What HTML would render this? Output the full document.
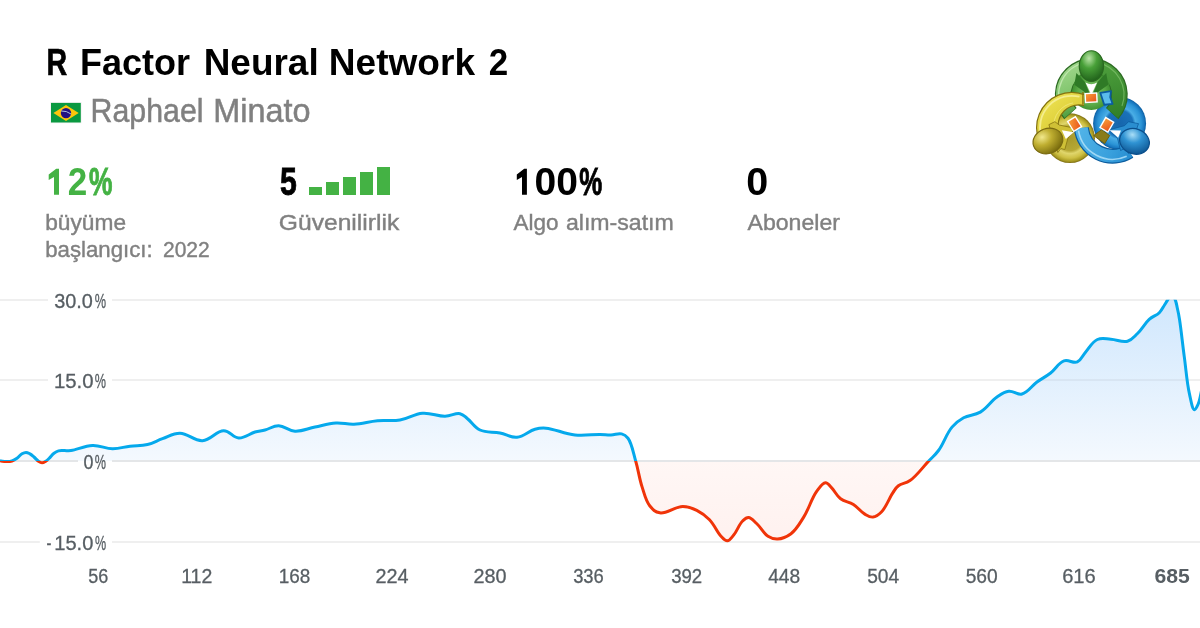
<!DOCTYPE html>
<html><head><meta charset="utf-8"><title>R Factor Neural Network 2</title>
<style>
html,body{margin:0;padding:0;background:#fff;}
body{width:1200px;height:628px;overflow:hidden;font-family:"Liberation Sans",sans-serif;}
svg{display:block;will-change:transform;}
text{font-family:"Liberation Sans",sans-serif;}
</style></head><body>
<svg width="1200" height="628" viewBox="0 0 1200 628">
<defs>
<linearGradient id="gb" x1="0" y1="300" x2="0" y2="461" gradientUnits="userSpaceOnUse">
<stop offset="0" stop-color="#d0e7fd"/><stop offset="1" stop-color="#f4f9fe"/></linearGradient>
<linearGradient id="gr" x1="0" y1="461" x2="0" y2="542" gradientUnits="userSpaceOnUse"><stop offset="0" stop-color="#fff7f5"/><stop offset="1" stop-color="#fff1ef"/></linearGradient>
<clipPath id="ca"><path d="M-4.0,460.5C-3.2,460.6 -1.7,460.6 0.0,460.8C2.1,461.0 3.7,461.6 6.0,461.6C8.3,461.6 9.9,461.7 12.0,461.0C14.1,460.3 15.2,459.5 17.0,458.2C19.0,456.8 20.1,454.9 22.0,453.8C23.5,452.9 24.5,452.4 26.0,452.4C27.5,452.4 28.5,453.1 30.0,453.9C31.6,454.8 32.5,455.7 34.0,457.0C35.7,458.5 36.8,460.2 38.5,461.3C39.8,462.2 40.7,462.8 42.0,462.8C43.3,462.8 44.2,462.2 45.5,461.4C46.9,460.6 47.6,459.8 49.0,458.5C50.8,456.8 52.0,454.7 54.0,453.2C55.7,452.0 56.6,451.4 58.5,450.9C60.5,450.4 61.8,450.7 64.0,450.6C66.5,450.5 67.6,451.0 71.0,450.6C77.0,449.9 84.4,445.8 92.5,445.5C100.3,445.2 105.1,448.6 112.5,448.7C119.4,448.8 123.3,447.0 130.0,446.2C136.7,445.4 141.1,446.0 147.5,444.5C153.6,443.1 156.5,440.8 162.5,438.7C168.9,436.5 172.9,433.1 180.0,433.2C188.1,433.3 194.1,441.2 202.5,440.7C210.8,440.2 216.3,430.7 223.7,430.7C230.0,430.7 232.8,437.7 238.7,438.0C244.8,438.3 249.5,433.6 255.0,432.0C259.2,430.8 260.9,431.1 265.0,430.0C269.9,428.8 273.2,425.6 278.7,425.7C284.7,425.8 288.4,430.8 295.0,431.2C302.2,431.6 307.2,428.6 315.0,427.0C322.9,425.4 328.2,423.5 336.0,423.0C343.1,422.6 346.7,424.5 354.0,424.2C362.4,423.9 368.6,421.5 377.5,420.7C386.2,419.9 391.5,421.4 400.0,420.0C408.7,418.6 413.8,413.9 422.5,413.2C431.1,412.5 437.3,416.3 445.0,416.2C451.3,416.1 455.4,412.7 460.0,413.7C463.6,414.5 464.4,416.3 467.5,418.7C471.8,422.0 474.2,427.2 480.0,430.0C486.4,433.0 492.7,431.5 500.0,433.0C506.8,434.3 510.5,437.8 517.0,437.2C523.9,436.6 528.8,430.8 535.0,429.2C539.6,428.0 540.8,427.8 546.0,428.2C554.5,428.8 564.2,433.9 575.0,435.0C584.9,436.0 592.4,434.3 600.0,434.4C605.1,434.5 606.8,435.0 611.0,434.9C615.1,434.8 618.2,433.0 621.6,433.9C624.5,434.6 625.8,435.4 628.0,438.2C631.8,443.2 633.1,452.0 635.7,461.1C638.5,470.6 639.1,477.6 642.0,486.6C644.6,494.5 645.6,500.5 649.7,505.7C652.9,509.7 654.9,512.0 659.8,512.8C666.6,514.0 675.1,506.4 682.8,506.4C688.8,506.4 691.8,507.8 696.8,510.3C702.0,512.9 705.1,515.2 709.5,519.7C714.5,524.8 716.9,532.0 721.0,536.2C723.5,538.8 724.9,540.9 727.3,540.8C729.8,540.7 731.2,537.9 733.7,535.0C737.1,531.0 739.1,524.3 742.6,521.0C744.8,518.9 746.1,517.5 748.5,517.6C751.4,517.8 753.4,520.6 756.6,523.5C760.8,527.3 763.4,533.3 768.0,536.2C771.5,538.4 773.6,539.2 777.5,539.0C782.3,538.8 786.3,537.2 791.0,533.7C796.6,529.5 799.1,524.4 803.7,517.1C809.0,508.6 811.5,498.7 816.5,491.7C819.9,487.1 822.2,483.0 825.4,482.8C828.0,482.7 829.2,485.4 831.7,487.9C835.0,491.2 836.4,495.6 840.6,498.8C844.8,502.0 848.8,501.5 853.4,504.4C858.1,507.4 860.6,511.6 864.8,514.1C868.0,516.0 869.9,517.4 873.0,517.1C876.3,516.8 878.3,515.1 881.4,512.0C886.1,507.3 889.1,498.4 892.8,492.9C895.2,489.4 895.5,488.0 898.4,485.7C901.8,483.0 905.4,483.8 910.0,480.6C916.7,475.9 922.5,467.6 928.5,461.2C932.9,456.5 934.7,455.7 938.5,450.5C943.7,443.5 946.4,433.7 952.0,427.1C956.2,422.2 958.5,420.6 963.6,417.8C969.2,414.7 974.2,415.7 980.3,412.1C987.1,408.1 990.9,401.1 997.0,397.0C1001.7,393.8 1004.0,391.9 1008.8,391.3C1013.6,390.7 1017.1,395.2 1022.0,394.0C1027.9,392.6 1031.3,386.2 1037.0,382.0C1042.3,378.2 1045.5,376.9 1050.6,373.0C1055.9,368.9 1058.4,362.8 1064.0,360.9C1068.8,359.3 1073.1,363.7 1077.3,361.9C1081.4,360.2 1082.2,355.9 1085.7,351.9C1089.8,347.3 1092.2,341.8 1097.4,339.5C1102.0,337.5 1105.4,338.9 1110.8,339.2C1116.9,339.5 1122.2,342.7 1127.5,341.2C1132.1,339.9 1133.7,337.1 1137.5,333.5C1142.1,329.1 1144.6,323.6 1149.2,319.4C1153.0,316.0 1156.3,315.7 1159.3,312.7C1161.9,310.1 1162.7,307.7 1164.5,305.0C1166.0,302.7 1166.6,301.4 1168.0,299.3C1169.3,297.3 1170.3,294.5 1171.6,294.5C1172.9,294.5 1174.0,297.1 1175.0,299.3C1176.3,302.0 1176.5,304.4 1177.3,308.0C1178.3,312.2 1178.7,314.1 1179.6,320.0C1181.2,330.3 1182.4,342.8 1184.3,356.9C1186.2,371.0 1186.9,382.6 1189.4,393.7C1191.1,401.2 1192.3,409.4 1194.4,409.7C1195.7,409.9 1196.9,406.9 1198.0,404.5C1199.4,401.6 1199.6,399.3 1200.5,395.5C1201.6,390.9 1202.5,384.6 1203.0,382.0L1203.0,461 L-4.0,461 Z"/></clipPath>
<clipPath id="cu"><rect x="0" y="299.8" width="1200" height="161.2"/></clipPath>
<clipPath id="cd"><rect x="0" y="461" width="1200" height="100"/></clipPath>
</defs>
<rect width="1200" height="628" fill="#fff"/>
<g><rect x="50.2" y="102" width="31.5" height="21.3" fill="#f3f3f3"/><rect x="51" y="102.9" width="29.8" height="19.6" fill="#0a9940"/><path d="M53.4,113 L66,105.1 L78.7,113 L66,121Z" fill="#fdc60b"/><circle cx="66" cy="113.1" r="5.2" fill="#221182"/><path d="M61.2,111 Q66.5,110.6 71,114" fill="none" stroke="#a9c3e0" stroke-width="1"/></g>
<g transform="translate(1025,45) scale(0.19912)"><defs>
<linearGradient id="ly" x1="60" y1="240" x2="330" y2="560" gradientUnits="userSpaceOnUse"><stop offset="0" stop-color="#f2e85a"/><stop offset="0.5" stop-color="#dccd38"/><stop offset="1" stop-color="#b8a820"/></linearGradient>
<radialGradient id="dy" cx="226" cy="468" r="125" gradientUnits="userSpaceOnUse"><stop offset="0" stop-color="#a89a2c"/><stop offset="0.5" stop-color="#b6a834"/><stop offset="0.62" stop-color="#e0d66c"/><stop offset="0.8" stop-color="#cec044"/><stop offset="0.93" stop-color="#a89a22"/><stop offset="1" stop-color="#7a6a10"/></radialGradient>
<radialGradient id="db" cx="475" cy="394" r="133" gradientUnits="userSpaceOnUse"><stop offset="0" stop-color="#1666ac"/><stop offset="0.5" stop-color="#1a72ba"/><stop offset="0.6" stop-color="#4aaee6"/><stop offset="0.82" stop-color="#2b94d6"/><stop offset="0.93" stop-color="#1878c0"/><stop offset="1" stop-color="#0b5c9e"/></radialGradient>
<radialGradient id="dg" cx="333" cy="235" r="108" gradientUnits="userSpaceOnUse"><stop offset="0" stop-color="#86c872"/><stop offset="0.6" stop-color="#5cab48"/><stop offset="0.88" stop-color="#3f9030"/><stop offset="1" stop-color="#2a6a20"/></radialGradient>
<linearGradient id="lb" x1="250" y1="450" x2="560" y2="600" gradientUnits="userSpaceOnUse"><stop offset="0" stop-color="#52b4e8"/><stop offset="0.6" stop-color="#389fdc"/><stop offset="1" stop-color="#1f86cc"/></linearGradient>
<linearGradient id="lgl" x1="150" y1="100" x2="260" y2="380" gradientUnits="userSpaceOnUse"><stop offset="0" stop-color="#a4da90"/><stop offset="0.6" stop-color="#7cc268"/><stop offset="1" stop-color="#3c8c2e"/></linearGradient>
<linearGradient id="lgr" x1="400" y1="100" x2="480" y2="380" gradientUnits="userSpaceOnUse"><stop offset="0" stop-color="#4d9e3c"/><stop offset="1" stop-color="#2f7d26"/></linearGradient>
<radialGradient id="hy" cx="0.36" cy="0.28" r="0.8"><stop offset="0" stop-color="#f1e88c"/><stop offset="0.4" stop-color="#bfae30"/><stop offset="1" stop-color="#6f6208"/></radialGradient>
<radialGradient id="hb" cx="0.36" cy="0.28" r="0.8"><stop offset="0" stop-color="#a9def7"/><stop offset="0.4" stop-color="#2f93d3"/><stop offset="1" stop-color="#0a4f8c"/></radialGradient>
<radialGradient id="hg" cx="0.4" cy="0.25" r="0.8"><stop offset="0" stop-color="#b9e4a6"/><stop offset="0.4" stop-color="#48a038"/><stop offset="1" stop-color="#1d5c18"/></radialGradient>
<linearGradient id="or" x1="0" y1="0" x2="1" y2="1"><stop offset="0" stop-color="#f9a23a"/><stop offset="1" stop-color="#e8501a"/></linearGradient>
</defs><circle cx="226" cy="468" r="125" fill="url(#dy)"/><circle cx="475" cy="394" r="133" fill="url(#db)"/><path d="M345,455 L385,425 L425,455 L400,495 Z" fill="#8a7c1a" stroke="#6e6010" stroke-width="5"/><path d="M523.7,534.0A158,158 0 0 1 282.9,416.5" fill="none" stroke="#0b5c9e" stroke-width="76"/><path d="M523.7,534.0A158,158 0 0 1 282.9,416.5" fill="none" stroke="url(#lb)" stroke-width="64"/><path d="M510.8,559.0A174,174 0 0 1 268.6,430.2" fill="none" stroke="#b5e4fa" stroke-width="8" stroke-opacity="0.8"/><circle cx="333" cy="218" r="108" fill="url(#dg)"/><path d="M228.2,344.3A141,141 0 1 1 437.8,344.3" fill="none" stroke="#2c6b22" stroke-width="84"/><path d="M226.6,342.5A141,141 0 0 1 333.0,109.0" fill="none" stroke="url(#lgl)" stroke-width="72"/><path d="M333.0,109.0A141,141 0 0 1 439.4,342.5" fill="none" stroke="url(#lgr)" stroke-width="72"/><path d="M191.0,332.0A164,164 0 0 1 304.5,88.5" fill="none" stroke="#c9ecb8" stroke-width="7" stroke-opacity="0.8"/><path d="M361.5,88.5A164,164 0 0 1 487.1,306.1" fill="none" stroke="#8ccc78" stroke-width="6" stroke-opacity="0.6"/><circle cx="333" cy="222" r="92" fill="url(#dg)"/><clipPath id="cy"><path d="M235,415 L297,330 L297,0 L-100,0 L-100,560 L-20,560 Z"/></clipPath><g clip-path="url(#cy)"><path fill-rule="evenodd" fill="#84730f" d="M55,415 a180,180 0 1 0 360,0 a180,180 0 1 0 -360,0Z M169,405 a101,101 0 1 0 202,0 a101,101 0 1 0 -202,0Z"/><path fill-rule="evenodd" fill="url(#ly)" d="M61,415 a174,174 0 1 0 348,0 a174,174 0 1 0 -348,0Z M163,405 a107,107 0 1 0 214,0 a107,107 0 1 0 -214,0Z"/><path d="M291,236 L291,300" stroke="#84730f" stroke-width="7"/></g><path d="M80.5,456.4A160,160 0 0 1 273.7,259.8" fill="none" stroke="#f8f2a0" stroke-width="9" stroke-opacity="0.8"/><path d="M144.4,417.3A118,118 0 0 1 241.5,290.8" fill="none" stroke="#f4eb84" stroke-width="5" stroke-opacity="0.7"/><path d="M378,240 L432,232 L428,262 L440,296 L398,300 Z" fill="#5bbcec" stroke="#0b5c9e" stroke-width="9" stroke-linejoin="round"/><path d="M258,140 L300,185 L333,262 L366,185 L408,140 L418,200 L372,232 L333,268 L294,232 L248,200Z" fill="#2f7a26"/><path d="M304,188 L333,250 L362,188 Q333,205 304,188Z" fill="#fff"/><ellipse cx="333.5" cy="106" rx="61" ry="77" fill="url(#hg)" stroke="#2a6a20" stroke-width="6"/><path d="M120,400 L150,385 L172,402 L250,418 L215,470 L200,525 L180,520 L165,540 Z" fill="#cfc036" stroke="#84730f" stroke-width="4"/><path d="M185,428 L245,438 L205,472Z" fill="#fff"/><g transform="rotate(-20 115 482)"><ellipse cx="115" cy="482" rx="76" ry="63" fill="url(#hy)" stroke="#7a6a10" stroke-width="6"/></g><path d="M570,395 L520,385 L500,405 L425,425 L465,470 L480,530 L500,520 L520,545 Z" fill="#2a8ed0" stroke="#0b5c9e" stroke-width="4"/><path d="M482,430 L425,428 L468,466Z" fill="#fff"/><g transform="rotate(20 550 484)"><ellipse cx="550" cy="484" rx="76" ry="63" fill="url(#hb)" stroke="#0b4f8c" stroke-width="6"/></g><rect x="303" y="243" width="58" height="44" fill="url(#or)" stroke="#fff" stroke-width="7" transform="rotate(-3 332 265)"/><rect x="226" y="368" width="46" height="58" fill="url(#or)" stroke="#fff" stroke-width="7" transform="rotate(-32 249 397)"/><rect x="388" y="372" width="46" height="58" fill="url(#or)" stroke="#fff" stroke-width="7" transform="rotate(30 411 401)"/></g>
<g fill="#44b244"><rect x="309" y="187" width="13" height="8"/><rect x="326" y="182" width="13" height="13"/><rect x="343" y="177" width="13" height="18"/><rect x="360" y="172" width="13" height="23"/><rect x="377" y="167" width="13" height="28"/></g>
<!-- chart -->
<g stroke="#efefef" stroke-width="2">
<path d="M0,300H48M112,300H1200M0,380H48M112,380H1200M0,542H39.8M112,542H1200"/></g>
<g clip-path="url(#cu)"><path d="M-4.0,460.5C-3.2,460.6 -1.7,460.6 0.0,460.8C2.1,461.0 3.7,461.6 6.0,461.6C8.3,461.6 9.9,461.7 12.0,461.0C14.1,460.3 15.2,459.5 17.0,458.2C19.0,456.8 20.1,454.9 22.0,453.8C23.5,452.9 24.5,452.4 26.0,452.4C27.5,452.4 28.5,453.1 30.0,453.9C31.6,454.8 32.5,455.7 34.0,457.0C35.7,458.5 36.8,460.2 38.5,461.3C39.8,462.2 40.7,462.8 42.0,462.8C43.3,462.8 44.2,462.2 45.5,461.4C46.9,460.6 47.6,459.8 49.0,458.5C50.8,456.8 52.0,454.7 54.0,453.2C55.7,452.0 56.6,451.4 58.5,450.9C60.5,450.4 61.8,450.7 64.0,450.6C66.5,450.5 67.6,451.0 71.0,450.6C77.0,449.9 84.4,445.8 92.5,445.5C100.3,445.2 105.1,448.6 112.5,448.7C119.4,448.8 123.3,447.0 130.0,446.2C136.7,445.4 141.1,446.0 147.5,444.5C153.6,443.1 156.5,440.8 162.5,438.7C168.9,436.5 172.9,433.1 180.0,433.2C188.1,433.3 194.1,441.2 202.5,440.7C210.8,440.2 216.3,430.7 223.7,430.7C230.0,430.7 232.8,437.7 238.7,438.0C244.8,438.3 249.5,433.6 255.0,432.0C259.2,430.8 260.9,431.1 265.0,430.0C269.9,428.8 273.2,425.6 278.7,425.7C284.7,425.8 288.4,430.8 295.0,431.2C302.2,431.6 307.2,428.6 315.0,427.0C322.9,425.4 328.2,423.5 336.0,423.0C343.1,422.6 346.7,424.5 354.0,424.2C362.4,423.9 368.6,421.5 377.5,420.7C386.2,419.9 391.5,421.4 400.0,420.0C408.7,418.6 413.8,413.9 422.5,413.2C431.1,412.5 437.3,416.3 445.0,416.2C451.3,416.1 455.4,412.7 460.0,413.7C463.6,414.5 464.4,416.3 467.5,418.7C471.8,422.0 474.2,427.2 480.0,430.0C486.4,433.0 492.7,431.5 500.0,433.0C506.8,434.3 510.5,437.8 517.0,437.2C523.9,436.6 528.8,430.8 535.0,429.2C539.6,428.0 540.8,427.8 546.0,428.2C554.5,428.8 564.2,433.9 575.0,435.0C584.9,436.0 592.4,434.3 600.0,434.4C605.1,434.5 606.8,435.0 611.0,434.9C615.1,434.8 618.2,433.0 621.6,433.9C624.5,434.6 625.8,435.4 628.0,438.2C631.8,443.2 633.1,452.0 635.7,461.1C638.5,470.6 639.1,477.6 642.0,486.6C644.6,494.5 645.6,500.5 649.7,505.7C652.9,509.7 654.9,512.0 659.8,512.8C666.6,514.0 675.1,506.4 682.8,506.4C688.8,506.4 691.8,507.8 696.8,510.3C702.0,512.9 705.1,515.2 709.5,519.7C714.5,524.8 716.9,532.0 721.0,536.2C723.5,538.8 724.9,540.9 727.3,540.8C729.8,540.7 731.2,537.9 733.7,535.0C737.1,531.0 739.1,524.3 742.6,521.0C744.8,518.9 746.1,517.5 748.5,517.6C751.4,517.8 753.4,520.6 756.6,523.5C760.8,527.3 763.4,533.3 768.0,536.2C771.5,538.4 773.6,539.2 777.5,539.0C782.3,538.8 786.3,537.2 791.0,533.7C796.6,529.5 799.1,524.4 803.7,517.1C809.0,508.6 811.5,498.7 816.5,491.7C819.9,487.1 822.2,483.0 825.4,482.8C828.0,482.7 829.2,485.4 831.7,487.9C835.0,491.2 836.4,495.6 840.6,498.8C844.8,502.0 848.8,501.5 853.4,504.4C858.1,507.4 860.6,511.6 864.8,514.1C868.0,516.0 869.9,517.4 873.0,517.1C876.3,516.8 878.3,515.1 881.4,512.0C886.1,507.3 889.1,498.4 892.8,492.9C895.2,489.4 895.5,488.0 898.4,485.7C901.8,483.0 905.4,483.8 910.0,480.6C916.7,475.9 922.5,467.6 928.5,461.2C932.9,456.5 934.7,455.7 938.5,450.5C943.7,443.5 946.4,433.7 952.0,427.1C956.2,422.2 958.5,420.6 963.6,417.8C969.2,414.7 974.2,415.7 980.3,412.1C987.1,408.1 990.9,401.1 997.0,397.0C1001.7,393.8 1004.0,391.9 1008.8,391.3C1013.6,390.7 1017.1,395.2 1022.0,394.0C1027.9,392.6 1031.3,386.2 1037.0,382.0C1042.3,378.2 1045.5,376.9 1050.6,373.0C1055.9,368.9 1058.4,362.8 1064.0,360.9C1068.8,359.3 1073.1,363.7 1077.3,361.9C1081.4,360.2 1082.2,355.9 1085.7,351.9C1089.8,347.3 1092.2,341.8 1097.4,339.5C1102.0,337.5 1105.4,338.9 1110.8,339.2C1116.9,339.5 1122.2,342.7 1127.5,341.2C1132.1,339.9 1133.7,337.1 1137.5,333.5C1142.1,329.1 1144.6,323.6 1149.2,319.4C1153.0,316.0 1156.3,315.7 1159.3,312.7C1161.9,310.1 1162.7,307.7 1164.5,305.0C1166.0,302.7 1166.6,301.4 1168.0,299.3C1169.3,297.3 1170.3,294.5 1171.6,294.5C1172.9,294.5 1174.0,297.1 1175.0,299.3C1176.3,302.0 1176.5,304.4 1177.3,308.0C1178.3,312.2 1178.7,314.1 1179.6,320.0C1181.2,330.3 1182.4,342.8 1184.3,356.9C1186.2,371.0 1186.9,382.6 1189.4,393.7C1191.1,401.2 1192.3,409.4 1194.4,409.7C1195.7,409.9 1196.9,406.9 1198.0,404.5C1199.4,401.6 1199.6,399.3 1200.5,395.5C1201.6,390.9 1202.5,384.6 1203.0,382.0L1203.0,461 L-4.0,461 Z" fill="url(#gb)"/></g>
<g clip-path="url(#cd)"><path d="M-4.0,460.5C-3.2,460.6 -1.7,460.6 0.0,460.8C2.1,461.0 3.7,461.6 6.0,461.6C8.3,461.6 9.9,461.7 12.0,461.0C14.1,460.3 15.2,459.5 17.0,458.2C19.0,456.8 20.1,454.9 22.0,453.8C23.5,452.9 24.5,452.4 26.0,452.4C27.5,452.4 28.5,453.1 30.0,453.9C31.6,454.8 32.5,455.7 34.0,457.0C35.7,458.5 36.8,460.2 38.5,461.3C39.8,462.2 40.7,462.8 42.0,462.8C43.3,462.8 44.2,462.2 45.5,461.4C46.9,460.6 47.6,459.8 49.0,458.5C50.8,456.8 52.0,454.7 54.0,453.2C55.7,452.0 56.6,451.4 58.5,450.9C60.5,450.4 61.8,450.7 64.0,450.6C66.5,450.5 67.6,451.0 71.0,450.6C77.0,449.9 84.4,445.8 92.5,445.5C100.3,445.2 105.1,448.6 112.5,448.7C119.4,448.8 123.3,447.0 130.0,446.2C136.7,445.4 141.1,446.0 147.5,444.5C153.6,443.1 156.5,440.8 162.5,438.7C168.9,436.5 172.9,433.1 180.0,433.2C188.1,433.3 194.1,441.2 202.5,440.7C210.8,440.2 216.3,430.7 223.7,430.7C230.0,430.7 232.8,437.7 238.7,438.0C244.8,438.3 249.5,433.6 255.0,432.0C259.2,430.8 260.9,431.1 265.0,430.0C269.9,428.8 273.2,425.6 278.7,425.7C284.7,425.8 288.4,430.8 295.0,431.2C302.2,431.6 307.2,428.6 315.0,427.0C322.9,425.4 328.2,423.5 336.0,423.0C343.1,422.6 346.7,424.5 354.0,424.2C362.4,423.9 368.6,421.5 377.5,420.7C386.2,419.9 391.5,421.4 400.0,420.0C408.7,418.6 413.8,413.9 422.5,413.2C431.1,412.5 437.3,416.3 445.0,416.2C451.3,416.1 455.4,412.7 460.0,413.7C463.6,414.5 464.4,416.3 467.5,418.7C471.8,422.0 474.2,427.2 480.0,430.0C486.4,433.0 492.7,431.5 500.0,433.0C506.8,434.3 510.5,437.8 517.0,437.2C523.9,436.6 528.8,430.8 535.0,429.2C539.6,428.0 540.8,427.8 546.0,428.2C554.5,428.8 564.2,433.9 575.0,435.0C584.9,436.0 592.4,434.3 600.0,434.4C605.1,434.5 606.8,435.0 611.0,434.9C615.1,434.8 618.2,433.0 621.6,433.9C624.5,434.6 625.8,435.4 628.0,438.2C631.8,443.2 633.1,452.0 635.7,461.1C638.5,470.6 639.1,477.6 642.0,486.6C644.6,494.5 645.6,500.5 649.7,505.7C652.9,509.7 654.9,512.0 659.8,512.8C666.6,514.0 675.1,506.4 682.8,506.4C688.8,506.4 691.8,507.8 696.8,510.3C702.0,512.9 705.1,515.2 709.5,519.7C714.5,524.8 716.9,532.0 721.0,536.2C723.5,538.8 724.9,540.9 727.3,540.8C729.8,540.7 731.2,537.9 733.7,535.0C737.1,531.0 739.1,524.3 742.6,521.0C744.8,518.9 746.1,517.5 748.5,517.6C751.4,517.8 753.4,520.6 756.6,523.5C760.8,527.3 763.4,533.3 768.0,536.2C771.5,538.4 773.6,539.2 777.5,539.0C782.3,538.8 786.3,537.2 791.0,533.7C796.6,529.5 799.1,524.4 803.7,517.1C809.0,508.6 811.5,498.7 816.5,491.7C819.9,487.1 822.2,483.0 825.4,482.8C828.0,482.7 829.2,485.4 831.7,487.9C835.0,491.2 836.4,495.6 840.6,498.8C844.8,502.0 848.8,501.5 853.4,504.4C858.1,507.4 860.6,511.6 864.8,514.1C868.0,516.0 869.9,517.4 873.0,517.1C876.3,516.8 878.3,515.1 881.4,512.0C886.1,507.3 889.1,498.4 892.8,492.9C895.2,489.4 895.5,488.0 898.4,485.7C901.8,483.0 905.4,483.8 910.0,480.6C916.7,475.9 922.5,467.6 928.5,461.2C932.9,456.5 934.7,455.7 938.5,450.5C943.7,443.5 946.4,433.7 952.0,427.1C956.2,422.2 958.5,420.6 963.6,417.8C969.2,414.7 974.2,415.7 980.3,412.1C987.1,408.1 990.9,401.1 997.0,397.0C1001.7,393.8 1004.0,391.9 1008.8,391.3C1013.6,390.7 1017.1,395.2 1022.0,394.0C1027.9,392.6 1031.3,386.2 1037.0,382.0C1042.3,378.2 1045.5,376.9 1050.6,373.0C1055.9,368.9 1058.4,362.8 1064.0,360.9C1068.8,359.3 1073.1,363.7 1077.3,361.9C1081.4,360.2 1082.2,355.9 1085.7,351.9C1089.8,347.3 1092.2,341.8 1097.4,339.5C1102.0,337.5 1105.4,338.9 1110.8,339.2C1116.9,339.5 1122.2,342.7 1127.5,341.2C1132.1,339.9 1133.7,337.1 1137.5,333.5C1142.1,329.1 1144.6,323.6 1149.2,319.4C1153.0,316.0 1156.3,315.7 1159.3,312.7C1161.9,310.1 1162.7,307.7 1164.5,305.0C1166.0,302.7 1166.6,301.4 1168.0,299.3C1169.3,297.3 1170.3,294.5 1171.6,294.5C1172.9,294.5 1174.0,297.1 1175.0,299.3C1176.3,302.0 1176.5,304.4 1177.3,308.0C1178.3,312.2 1178.7,314.1 1179.6,320.0C1181.2,330.3 1182.4,342.8 1184.3,356.9C1186.2,371.0 1186.9,382.6 1189.4,393.7C1191.1,401.2 1192.3,409.4 1194.4,409.7C1195.7,409.9 1196.9,406.9 1198.0,404.5C1199.4,401.6 1199.6,399.3 1200.5,395.5C1201.6,390.9 1202.5,384.6 1203.0,382.0L1203.0,461 L-4.0,461 Z" fill="url(#gr)"/></g>
<path d="M0,461H78M112,461H1200" stroke="#e4e6e8" stroke-width="2"/>
<g clip-path="url(#cu)"><path d="M112,380H1200M112,300H1200" stroke="#000" stroke-opacity="0.045" stroke-width="2" clip-path="url(#ca)"/></g>
<g clip-path="url(#cu)"><path d="M-4.0,460.5C-3.2,460.6 -1.7,460.6 0.0,460.8C2.1,461.0 3.7,461.6 6.0,461.6C8.3,461.6 9.9,461.7 12.0,461.0C14.1,460.3 15.2,459.5 17.0,458.2C19.0,456.8 20.1,454.9 22.0,453.8C23.5,452.9 24.5,452.4 26.0,452.4C27.5,452.4 28.5,453.1 30.0,453.9C31.6,454.8 32.5,455.7 34.0,457.0C35.7,458.5 36.8,460.2 38.5,461.3C39.8,462.2 40.7,462.8 42.0,462.8C43.3,462.8 44.2,462.2 45.5,461.4C46.9,460.6 47.6,459.8 49.0,458.5C50.8,456.8 52.0,454.7 54.0,453.2C55.7,452.0 56.6,451.4 58.5,450.9C60.5,450.4 61.8,450.7 64.0,450.6C66.5,450.5 67.6,451.0 71.0,450.6C77.0,449.9 84.4,445.8 92.5,445.5C100.3,445.2 105.1,448.6 112.5,448.7C119.4,448.8 123.3,447.0 130.0,446.2C136.7,445.4 141.1,446.0 147.5,444.5C153.6,443.1 156.5,440.8 162.5,438.7C168.9,436.5 172.9,433.1 180.0,433.2C188.1,433.3 194.1,441.2 202.5,440.7C210.8,440.2 216.3,430.7 223.7,430.7C230.0,430.7 232.8,437.7 238.7,438.0C244.8,438.3 249.5,433.6 255.0,432.0C259.2,430.8 260.9,431.1 265.0,430.0C269.9,428.8 273.2,425.6 278.7,425.7C284.7,425.8 288.4,430.8 295.0,431.2C302.2,431.6 307.2,428.6 315.0,427.0C322.9,425.4 328.2,423.5 336.0,423.0C343.1,422.6 346.7,424.5 354.0,424.2C362.4,423.9 368.6,421.5 377.5,420.7C386.2,419.9 391.5,421.4 400.0,420.0C408.7,418.6 413.8,413.9 422.5,413.2C431.1,412.5 437.3,416.3 445.0,416.2C451.3,416.1 455.4,412.7 460.0,413.7C463.6,414.5 464.4,416.3 467.5,418.7C471.8,422.0 474.2,427.2 480.0,430.0C486.4,433.0 492.7,431.5 500.0,433.0C506.8,434.3 510.5,437.8 517.0,437.2C523.9,436.6 528.8,430.8 535.0,429.2C539.6,428.0 540.8,427.8 546.0,428.2C554.5,428.8 564.2,433.9 575.0,435.0C584.9,436.0 592.4,434.3 600.0,434.4C605.1,434.5 606.8,435.0 611.0,434.9C615.1,434.8 618.2,433.0 621.6,433.9C624.5,434.6 625.8,435.4 628.0,438.2C631.8,443.2 633.1,452.0 635.7,461.1C638.5,470.6 639.1,477.6 642.0,486.6C644.6,494.5 645.6,500.5 649.7,505.7C652.9,509.7 654.9,512.0 659.8,512.8C666.6,514.0 675.1,506.4 682.8,506.4C688.8,506.4 691.8,507.8 696.8,510.3C702.0,512.9 705.1,515.2 709.5,519.7C714.5,524.8 716.9,532.0 721.0,536.2C723.5,538.8 724.9,540.9 727.3,540.8C729.8,540.7 731.2,537.9 733.7,535.0C737.1,531.0 739.1,524.3 742.6,521.0C744.8,518.9 746.1,517.5 748.5,517.6C751.4,517.8 753.4,520.6 756.6,523.5C760.8,527.3 763.4,533.3 768.0,536.2C771.5,538.4 773.6,539.2 777.5,539.0C782.3,538.8 786.3,537.2 791.0,533.7C796.6,529.5 799.1,524.4 803.7,517.1C809.0,508.6 811.5,498.7 816.5,491.7C819.9,487.1 822.2,483.0 825.4,482.8C828.0,482.7 829.2,485.4 831.7,487.9C835.0,491.2 836.4,495.6 840.6,498.8C844.8,502.0 848.8,501.5 853.4,504.4C858.1,507.4 860.6,511.6 864.8,514.1C868.0,516.0 869.9,517.4 873.0,517.1C876.3,516.8 878.3,515.1 881.4,512.0C886.1,507.3 889.1,498.4 892.8,492.9C895.2,489.4 895.5,488.0 898.4,485.7C901.8,483.0 905.4,483.8 910.0,480.6C916.7,475.9 922.5,467.6 928.5,461.2C932.9,456.5 934.7,455.7 938.5,450.5C943.7,443.5 946.4,433.7 952.0,427.1C956.2,422.2 958.5,420.6 963.6,417.8C969.2,414.7 974.2,415.7 980.3,412.1C987.1,408.1 990.9,401.1 997.0,397.0C1001.7,393.8 1004.0,391.9 1008.8,391.3C1013.6,390.7 1017.1,395.2 1022.0,394.0C1027.9,392.6 1031.3,386.2 1037.0,382.0C1042.3,378.2 1045.5,376.9 1050.6,373.0C1055.9,368.9 1058.4,362.8 1064.0,360.9C1068.8,359.3 1073.1,363.7 1077.3,361.9C1081.4,360.2 1082.2,355.9 1085.7,351.9C1089.8,347.3 1092.2,341.8 1097.4,339.5C1102.0,337.5 1105.4,338.9 1110.8,339.2C1116.9,339.5 1122.2,342.7 1127.5,341.2C1132.1,339.9 1133.7,337.1 1137.5,333.5C1142.1,329.1 1144.6,323.6 1149.2,319.4C1153.0,316.0 1156.3,315.7 1159.3,312.7C1161.9,310.1 1162.7,307.7 1164.5,305.0C1166.0,302.7 1166.6,301.4 1168.0,299.3C1169.3,297.3 1170.3,294.5 1171.6,294.5C1172.9,294.5 1174.0,297.1 1175.0,299.3C1176.3,302.0 1176.5,304.4 1177.3,308.0C1178.3,312.2 1178.7,314.1 1179.6,320.0C1181.2,330.3 1182.4,342.8 1184.3,356.9C1186.2,371.0 1186.9,382.6 1189.4,393.7C1191.1,401.2 1192.3,409.4 1194.4,409.7C1195.7,409.9 1196.9,406.9 1198.0,404.5C1199.4,401.6 1199.6,399.3 1200.5,395.5C1201.6,390.9 1202.5,384.6 1203.0,382.0" fill="none" stroke="#05a9ec" stroke-width="3" stroke-linejoin="round"/></g>
<g clip-path="url(#cd)"><path d="M-4.0,460.5C-3.2,460.6 -1.7,460.6 0.0,460.8C2.1,461.0 3.7,461.6 6.0,461.6C8.3,461.6 9.9,461.7 12.0,461.0C14.1,460.3 15.2,459.5 17.0,458.2C19.0,456.8 20.1,454.9 22.0,453.8C23.5,452.9 24.5,452.4 26.0,452.4C27.5,452.4 28.5,453.1 30.0,453.9C31.6,454.8 32.5,455.7 34.0,457.0C35.7,458.5 36.8,460.2 38.5,461.3C39.8,462.2 40.7,462.8 42.0,462.8C43.3,462.8 44.2,462.2 45.5,461.4C46.9,460.6 47.6,459.8 49.0,458.5C50.8,456.8 52.0,454.7 54.0,453.2C55.7,452.0 56.6,451.4 58.5,450.9C60.5,450.4 61.8,450.7 64.0,450.6C66.5,450.5 67.6,451.0 71.0,450.6C77.0,449.9 84.4,445.8 92.5,445.5C100.3,445.2 105.1,448.6 112.5,448.7C119.4,448.8 123.3,447.0 130.0,446.2C136.7,445.4 141.1,446.0 147.5,444.5C153.6,443.1 156.5,440.8 162.5,438.7C168.9,436.5 172.9,433.1 180.0,433.2C188.1,433.3 194.1,441.2 202.5,440.7C210.8,440.2 216.3,430.7 223.7,430.7C230.0,430.7 232.8,437.7 238.7,438.0C244.8,438.3 249.5,433.6 255.0,432.0C259.2,430.8 260.9,431.1 265.0,430.0C269.9,428.8 273.2,425.6 278.7,425.7C284.7,425.8 288.4,430.8 295.0,431.2C302.2,431.6 307.2,428.6 315.0,427.0C322.9,425.4 328.2,423.5 336.0,423.0C343.1,422.6 346.7,424.5 354.0,424.2C362.4,423.9 368.6,421.5 377.5,420.7C386.2,419.9 391.5,421.4 400.0,420.0C408.7,418.6 413.8,413.9 422.5,413.2C431.1,412.5 437.3,416.3 445.0,416.2C451.3,416.1 455.4,412.7 460.0,413.7C463.6,414.5 464.4,416.3 467.5,418.7C471.8,422.0 474.2,427.2 480.0,430.0C486.4,433.0 492.7,431.5 500.0,433.0C506.8,434.3 510.5,437.8 517.0,437.2C523.9,436.6 528.8,430.8 535.0,429.2C539.6,428.0 540.8,427.8 546.0,428.2C554.5,428.8 564.2,433.9 575.0,435.0C584.9,436.0 592.4,434.3 600.0,434.4C605.1,434.5 606.8,435.0 611.0,434.9C615.1,434.8 618.2,433.0 621.6,433.9C624.5,434.6 625.8,435.4 628.0,438.2C631.8,443.2 633.1,452.0 635.7,461.1C638.5,470.6 639.1,477.6 642.0,486.6C644.6,494.5 645.6,500.5 649.7,505.7C652.9,509.7 654.9,512.0 659.8,512.8C666.6,514.0 675.1,506.4 682.8,506.4C688.8,506.4 691.8,507.8 696.8,510.3C702.0,512.9 705.1,515.2 709.5,519.7C714.5,524.8 716.9,532.0 721.0,536.2C723.5,538.8 724.9,540.9 727.3,540.8C729.8,540.7 731.2,537.9 733.7,535.0C737.1,531.0 739.1,524.3 742.6,521.0C744.8,518.9 746.1,517.5 748.5,517.6C751.4,517.8 753.4,520.6 756.6,523.5C760.8,527.3 763.4,533.3 768.0,536.2C771.5,538.4 773.6,539.2 777.5,539.0C782.3,538.8 786.3,537.2 791.0,533.7C796.6,529.5 799.1,524.4 803.7,517.1C809.0,508.6 811.5,498.7 816.5,491.7C819.9,487.1 822.2,483.0 825.4,482.8C828.0,482.7 829.2,485.4 831.7,487.9C835.0,491.2 836.4,495.6 840.6,498.8C844.8,502.0 848.8,501.5 853.4,504.4C858.1,507.4 860.6,511.6 864.8,514.1C868.0,516.0 869.9,517.4 873.0,517.1C876.3,516.8 878.3,515.1 881.4,512.0C886.1,507.3 889.1,498.4 892.8,492.9C895.2,489.4 895.5,488.0 898.4,485.7C901.8,483.0 905.4,483.8 910.0,480.6C916.7,475.9 922.5,467.6 928.5,461.2C932.9,456.5 934.7,455.7 938.5,450.5C943.7,443.5 946.4,433.7 952.0,427.1C956.2,422.2 958.5,420.6 963.6,417.8C969.2,414.7 974.2,415.7 980.3,412.1C987.1,408.1 990.9,401.1 997.0,397.0C1001.7,393.8 1004.0,391.9 1008.8,391.3C1013.6,390.7 1017.1,395.2 1022.0,394.0C1027.9,392.6 1031.3,386.2 1037.0,382.0C1042.3,378.2 1045.5,376.9 1050.6,373.0C1055.9,368.9 1058.4,362.8 1064.0,360.9C1068.8,359.3 1073.1,363.7 1077.3,361.9C1081.4,360.2 1082.2,355.9 1085.7,351.9C1089.8,347.3 1092.2,341.8 1097.4,339.5C1102.0,337.5 1105.4,338.9 1110.8,339.2C1116.9,339.5 1122.2,342.7 1127.5,341.2C1132.1,339.9 1133.7,337.1 1137.5,333.5C1142.1,329.1 1144.6,323.6 1149.2,319.4C1153.0,316.0 1156.3,315.7 1159.3,312.7C1161.9,310.1 1162.7,307.7 1164.5,305.0C1166.0,302.7 1166.6,301.4 1168.0,299.3C1169.3,297.3 1170.3,294.5 1171.6,294.5C1172.9,294.5 1174.0,297.1 1175.0,299.3C1176.3,302.0 1176.5,304.4 1177.3,308.0C1178.3,312.2 1178.7,314.1 1179.6,320.0C1181.2,330.3 1182.4,342.8 1184.3,356.9C1186.2,371.0 1186.9,382.6 1189.4,393.7C1191.1,401.2 1192.3,409.4 1194.4,409.7C1195.7,409.9 1196.9,406.9 1198.0,404.5C1199.4,401.6 1199.6,399.3 1200.5,395.5C1201.6,390.9 1202.5,384.6 1203.0,382.0" fill="none" stroke="#f03409" stroke-width="3" stroke-linejoin="round"/></g>
<text x="46.62" y="74.9" font-size="37.5" font-weight="700" stroke="#000" stroke-width="0.7" fill="#000" textLength="20.69" lengthAdjust="spacingAndGlyphs">R</text>
<text x="79.88" y="74.9" font-size="37.5" font-weight="700" fill="#000" textLength="110.13" lengthAdjust="spacingAndGlyphs">Factor</text>
<text x="203.63" y="74.9" font-size="37.5" font-weight="700" fill="#000" textLength="115.06" lengthAdjust="spacingAndGlyphs">Neural</text>
<text x="328.82" y="74.9" font-size="37.5" font-weight="700" fill="#000" textLength="146.23" lengthAdjust="spacingAndGlyphs">Network</text>
<text x="488.87" y="74.9" font-size="37.5" font-weight="700" fill="#000" textLength="19.43" lengthAdjust="spacingAndGlyphs">2</text>
<text x="90.61" y="121.7" font-size="33" stroke="#808080" stroke-width="0.5" fill="#808080" textLength="112.86" lengthAdjust="spacingAndGlyphs">Raphael</text>
<text x="213.29" y="121.7" font-size="33" stroke="#808080" stroke-width="0.5" fill="#808080" textLength="97.29" lengthAdjust="spacingAndGlyphs">Minato</text>
<text x="67.79" y="194.8" font-size="38.5" font-weight="700" fill="#44b244" textLength="19.50" lengthAdjust="spacingAndGlyphs">2</text>
<text x="88.95" y="194.8" font-size="38.5" font-weight="700" stroke="#44b244" stroke-width="0.9" fill="#44b244" textLength="23.46" lengthAdjust="spacingAndGlyphs">%</text>
<text x="280.11" y="194.8" font-size="38.5" font-weight="700" stroke="#000" stroke-width="0.8" fill="#000" textLength="16.81" lengthAdjust="spacingAndGlyphs">5</text>
<text x="534.49" y="194.8" font-size="38.5" font-weight="700" fill="#000" textLength="43.45" lengthAdjust="spacingAndGlyphs">00</text>
<text x="579.25" y="194.8" font-size="38.5" font-weight="700" stroke="#000" stroke-width="0.9" fill="#000" textLength="22.96" lengthAdjust="spacingAndGlyphs">%</text>
<text x="746.27" y="194.8" font-size="38.5" font-weight="700" fill="#000" textLength="21.98" lengthAdjust="spacingAndGlyphs">0</text>
<text x="45.18" y="229.5" font-size="22.4" stroke="#808080" stroke-width="0.4" fill="#808080" textLength="80.87" lengthAdjust="spacingAndGlyphs">büyüme</text>
<text x="45.21" y="256.6" font-size="22.4" stroke="#808080" stroke-width="0.4" fill="#808080" textLength="107.50" lengthAdjust="spacingAndGlyphs">başlangıcı:</text>
<text x="162.96" y="256.6" font-size="22.4" stroke="#808080" stroke-width="0.4" fill="#808080" textLength="46.76" lengthAdjust="spacingAndGlyphs">2022</text>
<text x="278.80" y="229.5" font-size="22.4" stroke="#808080" stroke-width="0.4" fill="#808080" textLength="120.41" lengthAdjust="spacingAndGlyphs">Güvenilirlik</text>
<text x="513.40" y="229.5" font-size="22.4" stroke="#808080" stroke-width="0.4" fill="#808080" textLength="45.06" lengthAdjust="spacingAndGlyphs">Algo</text>
<text x="565.90" y="229.5" font-size="22.4" stroke="#808080" stroke-width="0.4" fill="#808080" textLength="107.87" lengthAdjust="spacingAndGlyphs">alım-satım</text>
<text x="747.50" y="229.5" font-size="22.4" stroke="#808080" stroke-width="0.4" fill="#808080" textLength="92.44" lengthAdjust="spacingAndGlyphs">Aboneler</text>
<text x="54.15" y="308" font-size="20.5" stroke="#575e63" stroke-width="0.3" fill="#575e63" textLength="38.69" lengthAdjust="spacingAndGlyphs">30.0</text>
<text x="94.75" y="308" font-size="20.5" stroke="#575e63" stroke-width="0.3" fill="#575e63" textLength="11.34" lengthAdjust="spacingAndGlyphs">%</text>
<text x="53.96" y="387.9" font-size="20.5" stroke="#575e63" stroke-width="0.3" fill="#575e63" textLength="39.59" lengthAdjust="spacingAndGlyphs">15.0</text>
<text x="94.85" y="387.9" font-size="20.5" stroke="#575e63" stroke-width="0.3" fill="#575e63" textLength="11.24" lengthAdjust="spacingAndGlyphs">%</text>
<text x="83.55" y="468.9" font-size="20.5" stroke="#575e63" stroke-width="0.3" fill="#575e63" textLength="9.95" lengthAdjust="spacingAndGlyphs">0</text>
<text x="94.85" y="468.9" font-size="20.5" stroke="#575e63" stroke-width="0.3" fill="#575e63" textLength="11.24" lengthAdjust="spacingAndGlyphs">%</text>
<text x="46.55" y="549.6" font-size="20.5" stroke="#575e63" stroke-width="0.3" fill="#575e63" textLength="4.89" lengthAdjust="spacingAndGlyphs">-</text>
<text x="54.27" y="549.6" font-size="20.5" stroke="#575e63" stroke-width="0.3" fill="#575e63" textLength="39.07" lengthAdjust="spacingAndGlyphs">15.0</text>
<text x="94.95" y="549.6" font-size="20.5" stroke="#575e63" stroke-width="0.3" fill="#575e63" textLength="11.14" lengthAdjust="spacingAndGlyphs">%</text>
<text x="88.15" y="582.5" font-size="20.5" stroke="#575e63" stroke-width="0.3" fill="#575e63" textLength="20.05" lengthAdjust="spacingAndGlyphs">56</text>
<text x="181.20" y="582.5" font-size="20.5" stroke="#575e63" stroke-width="0.3" fill="#575e63" textLength="31.03" lengthAdjust="spacingAndGlyphs">112</text>
<text x="278.63" y="582.5" font-size="20.5" stroke="#575e63" stroke-width="0.3" fill="#575e63" textLength="31.59" lengthAdjust="spacingAndGlyphs">168</text>
<text x="375.58" y="582.5" font-size="20.5" stroke="#575e63" stroke-width="0.3" fill="#575e63" textLength="33.05" lengthAdjust="spacingAndGlyphs">224</text>
<text x="473.58" y="582.5" font-size="20.5" stroke="#575e63" stroke-width="0.3" fill="#575e63" textLength="33.05" lengthAdjust="spacingAndGlyphs">280</text>
<text x="573.15" y="582.5" font-size="20.5" stroke="#575e63" stroke-width="0.3" fill="#575e63" textLength="30.66" lengthAdjust="spacingAndGlyphs">336</text>
<text x="671.15" y="582.5" font-size="20.5" stroke="#575e63" stroke-width="0.3" fill="#575e63" textLength="31.06" lengthAdjust="spacingAndGlyphs">392</text>
<text x="768.15" y="582.5" font-size="20.5" stroke="#575e63" stroke-width="0.3" fill="#575e63" textLength="32.08" lengthAdjust="spacingAndGlyphs">448</text>
<text x="867.15" y="582.5" font-size="20.5" stroke="#575e63" stroke-width="0.3" fill="#575e63" textLength="32.08" lengthAdjust="spacingAndGlyphs">504</text>
<text x="965.65" y="582.5" font-size="20.5" stroke="#575e63" stroke-width="0.3" fill="#575e63" textLength="32.08" lengthAdjust="spacingAndGlyphs">560</text>
<text x="1062.17" y="582.5" font-size="20.5" stroke="#575e63" stroke-width="0.3" fill="#575e63" textLength="33.58" lengthAdjust="spacingAndGlyphs">616</text>
<text x="1154.50" y="582.5" font-size="20.5" font-weight="700" fill="#575e63" textLength="35.42" lengthAdjust="spacingAndGlyphs">685</text>
<path d="M48.7,174.4 L56.2,168.7 L59,168.7 L59,194.8 L54,194.8 L54,177 L48.7,180 Z" fill="#44b244"/>
<path d="M516.8,174.4 L524.2,168.7 L526.9,168.7 L526.9,194.8 L522,194.8 L522,177 L516.8,180 Z" fill="#000"/>
</svg>
</body></html>
